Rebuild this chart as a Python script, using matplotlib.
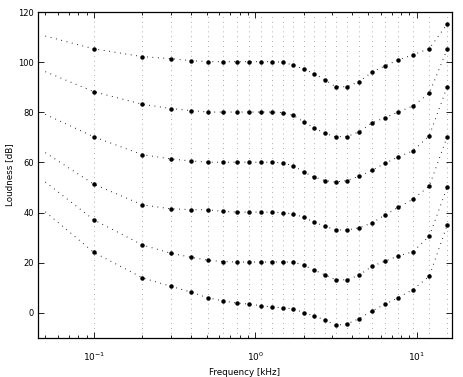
import matplotlib
matplotlib.use("Agg")
import matplotlib.pyplot as plt
import numpy as np

plt.rcParams['font.family'] = ['DejaVu Sans']
plt.rcParams['mathtext.fontset'] = 'dejavusans'

# frequencies [kHz]: first entry is the start of the line (no marker), the rest are band edges
freqs = [0.05, 0.1, 0.2, 0.3, 0.4, 0.51, 0.63, 0.77, 0.92, 1.08, 1.27, 1.48, 1.72,
         2.0, 2.32, 2.7, 3.15, 3.7, 4.4, 5.3, 6.4, 7.7, 9.5, 12.0, 15.5]

curve_100 = [110.4, 105.3, 102.2, 101.4, 100.6, 100.2, 100.2, 100.2, 100.2, 100.2, 100.2, 100.0, 98.8,
             97.3, 95.4, 93.0, 90.2, 90.2, 92.2, 96.0, 98.6, 100.9, 102.9, 105.4, 115.2]
curve_80 = [96.2, 88.2, 83.2, 81.5, 80.7, 80.1, 80.1, 80.1, 80.1, 80.1, 80.1, 79.9, 78.8,
            76.2, 73.8, 71.6, 70.3, 70.3, 72.2, 75.8, 77.9, 80.1, 82.5, 87.6, 105.1]
curve_60 = [79.2, 70.2, 63.1, 61.4, 60.6, 60.1, 60.1, 60.1, 60.1, 60.1, 60.1, 59.8, 58.7,
            56.2, 54.2, 52.8, 52.2, 52.8, 54.5, 56.9, 59.7, 62.2, 64.6, 70.7, 90.2]
curve_40 = [63.9, 51.3, 43.1, 41.5, 41.2, 41.1, 40.5, 40.2, 40.2, 40.2, 40.2, 40.0, 39.5,
            38.1, 36.2, 34.6, 33.1, 33.1, 33.9, 35.9, 39.1, 42.1, 45.3, 50.6, 70.3]
curve_20 = [52.2, 37.1, 27.1, 23.8, 22.2, 21.0, 20.5, 20.3, 20.3, 20.3, 20.3, 20.3, 20.3,
            19.0, 17.1, 15.2, 13.2, 13.2, 15.0, 18.6, 20.7, 22.7, 24.4, 30.6, 50.1]
curve_0 = [40.3, 24.1, 14.0, 10.6, 8.3, 6.0, 4.8, 3.9, 3.5, 2.9, 2.4, 2.0, 1.7,
           0.1, -1.2, -2.8, -4.9, -4.4, -2.3, 0.8, 3.5, 6.1, 9.3, 14.6, 35.1]

curves = [curve_100, curve_80, curve_60, curve_40, curve_20, curve_0]
yticks = [0, 20, 40, 60, 80, 100, 120]

fig = plt.figure(figsize=(4.63, 3.77), dpi=100)
ax = fig.add_axes([38/463, 1 - 338/377, (452 - 38)/463, (338 - 12)/377])

# vertical dotted grid at band edges
for f in freqs[1:]:
    ax.axvline(f, color='#8c8c8c', lw=0.7, dashes=(0.7, 4.3), zorder=1)

for c in curves:
    ax.plot(freqs, c, color='black', lw=0.75, dashes=(0.75, 4.5), zorder=2)
    ax.plot(freqs[1:], c[1:], ls='none', marker='o', ms=2.2, color='black', zorder=3)

ax.set_xscale('log')
ax.set_xlim(0.045, 16.6)
ax.set_ylim(-10, 120)
ax.set_yticks(yticks)

for s in ax.spines.values():
    s.set_linewidth(0.9)

ax.tick_params(which='both', direction='in', top=True, right=True, labelsize=6)
ax.tick_params(which='major', length=4, width=0.6)
ax.tick_params(which='minor', length=2, width=0.6)
ax.tick_params(axis='x', which='major', pad=9, labelsize=6.5)
ax.tick_params(axis='y', which='major', pad=3)

ax.set_xlabel('Frequency [kHz]', fontsize=6.3, labelpad=4)
ax.set_ylabel('Loudness [dB]', fontsize=6.3, labelpad=3)

fig.savefig('out.png', dpi=100)
